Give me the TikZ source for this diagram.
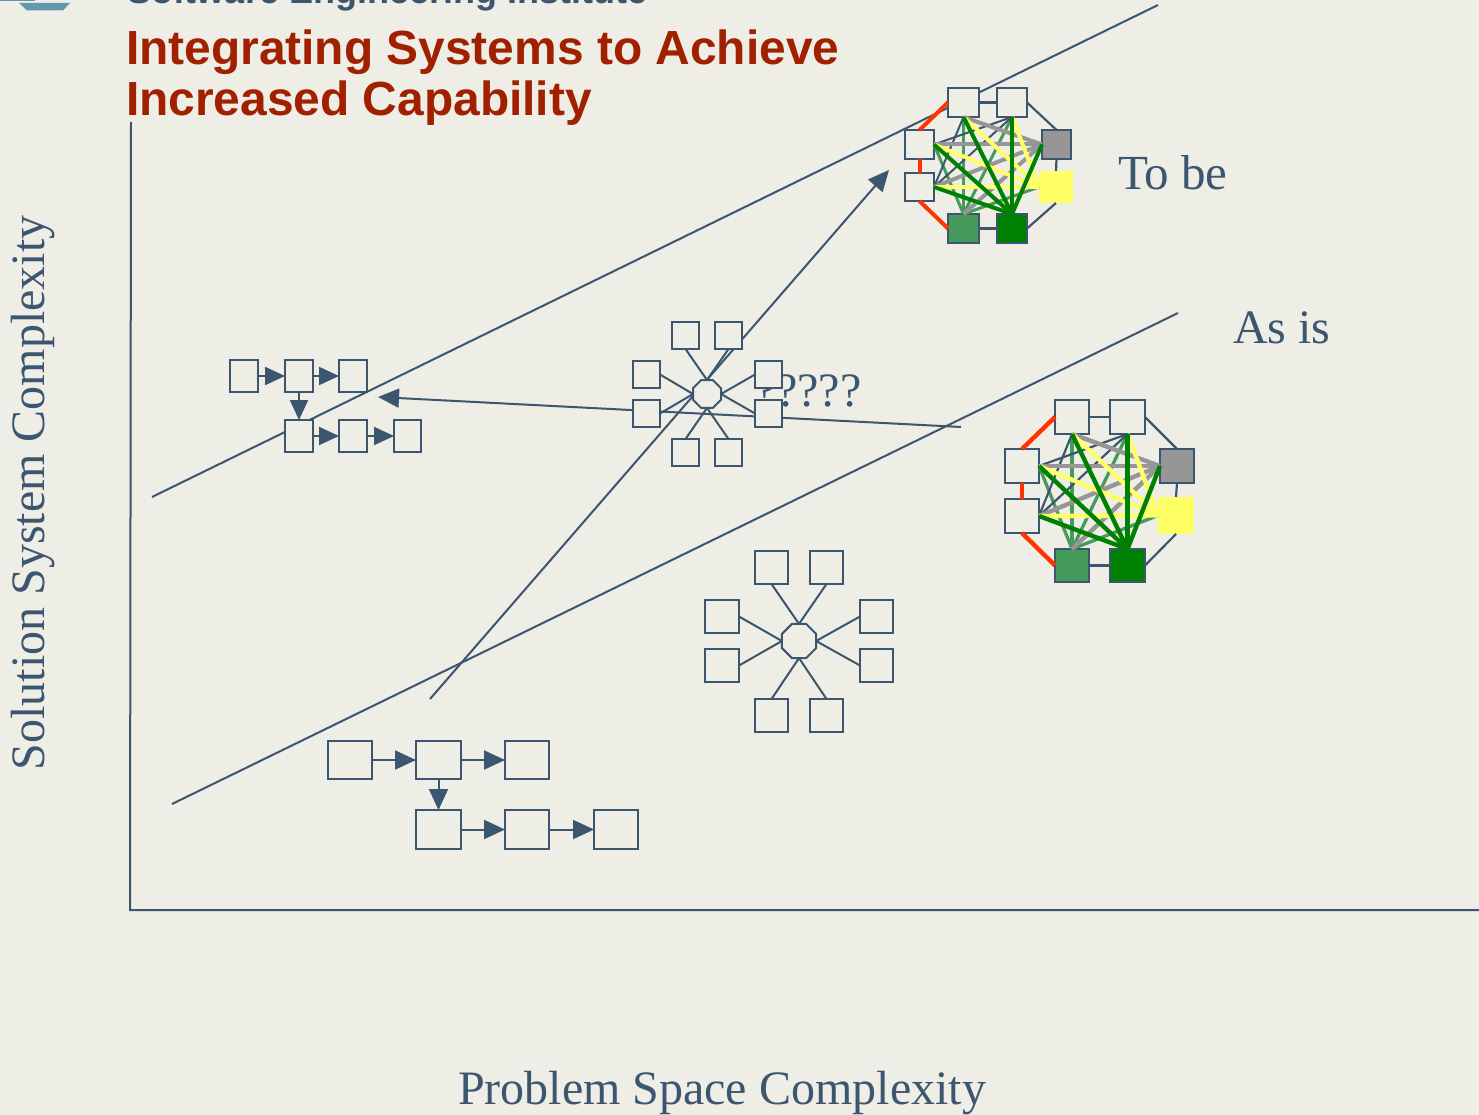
\documentclass[tikz,border=0pt]{standalone}
\usepackage{fontspec}
\setmainfont{Liberation Serif}
\newfontfamily\headfont{Liberation Sans}[BoldFont={Liberation Sans Bold}]
\usetikzlibrary{arrows.meta,shapes.geometric}
\definecolor{bgc}{HTML}{EEEDE6}
\definecolor{slate}{HTML}{3B566E}
\definecolor{titlered}{HTML}{A02000}
\definecolor{redline}{HTML}{FF3300}
\definecolor{gr}{HTML}{008000}
\definecolor{sea}{HTML}{469A5C}
\definecolor{gy}{HTML}{969696}
\definecolor{yl}{HTML}{FFFF66}
\definecolor{teal}{HTML}{6399AC}
\tikzset{
  x=1pt,y=-1pt,
  line/.style={draw=slate,line width=2pt},
  box/.style={draw=slate,line width=2pt,fill=bgc,inner sep=0pt,outer sep=0pt,anchor=north west},
  octa/.style={regular polygon,regular polygon sides=8,draw=slate,line width=2pt,fill=bgc,inner sep=0pt,outer sep=0pt},
  smalltip/.style={-{Triangle[length=20pt,width=18pt]}},
  bigtip/.style={-{Triangle[length=21pt,width=19pt]}},
  lab/.style={text=slate,inner sep=0pt,outer sep=0pt,anchor=base west},
}
\newcommand\pxbox[6][]{\node[box,#1,minimum width=#4pt-#2pt,minimum height=#5pt-#3pt] (#6) at (#2,#3) {};}
\newcommand\meshedges[3]{% prefix, thick, thin
  \foreach \p/\q/\c/\w in {
    T1.south/B1.north/sea/0.75, T2.south/B1.north/sea/0.75, L1.east/B1.north/sea/0.75,
    Y.west/B1.north/sea/0.75,
    T1.south/L2.east/slate/0.5, T2.south/L1.east/slate/0.5, T2.south/L2.east/slate/0.5,
    L1.east/R1.west/gy/1, T1.south/R1.west/gy/1, L2.east/R1.west/gy/1, R1.west/B1.north/gy/1,
    L1.east/Y.west/yl/1, T1.south/Y.west/yl/1, T2.south/Y.west/yl/1, L2.east/Y.west/yl/1,
    T1.south/B2.north/gr/1, T2.south/B2.north/gr/1, L1.east/B2.north/gr/1, L2.east/B2.north/gr/1, R1.west/B2.north/gr/1}{
    \draw[draw=\c,line width=\w*#2pt] (#1\p) -- (#1\q);
  }
  \foreach \p/\q in {T1.east/T2.west, B1.east/B2.west, R1.south/Y.north}
    \draw[draw=slate,line width=#3pt] (#1\p) -- (#1\q);
  \draw[draw=slate,line width=#3pt] (#1T2.east) -- (#1R1.north);
  \draw[draw=slate,line width=#3pt] (#1Y.south) -- (#1B2.east);
  \draw[draw=redline,line width=#2pt] (#1L1.north) -- (#1T1.west);
  \draw[draw=redline,line width=#2pt] (#1L1.south) -- (#1L2.north);
  \draw[draw=redline,line width=#2pt] (#1L2.south) -- (#1B1.west);
}
\begin{document}
\begin{tikzpicture}
\path[use as bounding box,fill=bgc] (0,0) rectangle (1479,1115);
% logo fragment
\fill[teal] (19,3) -- (70,3) -- (63,10.5) -- (27,10.5) -- cycle;
\fill[teal] (0,0) rectangle (35,1);
% titles
\node[lab,text=slate] (inst) at (127,4) {\headfont\bfseries\fontsize{36}{36}\selectfont Software Engineering Institute};
\node[lab,text=titlered] (title1) at (126,65) {\headfont\bfseries\fontsize{47.9}{48}\selectfont Integrating Systems to Achieve};
\node[lab,text=titlered] (title2) at (126,116) {\headfont\bfseries\fontsize{47.9}{48}\selectfont Increased Capability};
% labels
\node[lab] (tobe) at (1118,190) {\fontsize{49}{49}\selectfont To be};
\node[lab] (asis) at (1233,343) {\fontsize{48}{48}\selectfont As is};
\node[lab] (qq) at (755,406) {\fontsize{48}{48}\selectfont ?????};
\node[lab,anchor=base,rotate=90] (ylab) at (44,493) {\fontsize{48}{48}\selectfont Solution System Complexity};
\node[lab] (xlab) at (458,1104) {\fontsize{48}{48}\selectfont Problem Space Complexity};
% axes
\coordinate (ytop) at (131,122); \coordinate (orig) at (130,910); \coordinate (xend) at (1479,910);
\draw[line] (ytop) -- (orig) -- (xend);
% band lines
\coordinate (u1) at (152,497); \coordinate (u2) at (1158,5);
\coordinate (l1) at (172,804); \coordinate (l2) at (1178,313);
\draw[line] (u1) -- (u2);
\draw[line] (l1) -- (l2);
% long arrows
\coordinate (a1) at (430,699); \coordinate (a2) at (889,170);
\coordinate (b1) at (961,427); \coordinate (b2) at (378,397);
\draw[line,bigtip] (a1) -- (a2);
\draw[line,bigtip] (b1) -- (b2);
% small star
\pxbox{672}{322}{699}{349}{sa}
\pxbox{715}{322}{742}{349}{sb}
\pxbox{633}{361}{660}{388}{sc}
\pxbox{633}{400}{660}{427}{sd}
\pxbox{755}{361}{782}{388}{se}
\pxbox{755}{400}{782}{427}{sf}
\pxbox{672}{439}{699}{466}{sg}
\pxbox{715}{439}{742}{466}{sh}
\node[octa,minimum size=30.3pt] (so) at (707,394) {};
\foreach \n/\a/\o in {sa/south/north,sb/south/north,sc/east/west,sd/east/west,se/west/east,sf/west/east,sg/north/south,sh/north/south}
  \draw[line] (\n.\a) -- (so.\o);
% big star
\pxbox{755}{551}{788}{584}{ba}
\pxbox{810}{551}{843}{584}{bb}
\pxbox{705}{600}{739}{633}{bc}
\pxbox{705}{649}{739}{682}{bd}
\pxbox{860}{600}{893}{633}{be}
\pxbox{860}{649}{893}{682}{bf}
\pxbox{755}{699}{788}{732}{bg}
\pxbox{810}{699}{843}{732}{bh}
\node[octa,minimum size=37pt] (bo) at (799,641) {};
\foreach \n/\a/\o in {ba/south/north,bb/south/north,bc/east/west,bd/east/west,be/west/east,bf/west/east,bg/north/south,bh/north/south}
  \draw[line] (\n.\a) -- (bo.\o);
% upper chain
\pxbox{230}{360}{258}{392}{ca}
\pxbox{285}{360}{313}{392}{cb}
\pxbox{339}{360}{367}{392}{cc}
\pxbox{285}{420}{313}{452}{cd}
\pxbox{339}{420}{367}{452}{ce}
\pxbox{394}{420}{421}{452}{cf}
\foreach \p/\q in {ca.east/cb.west,cb.east/cc.west,cd.east/ce.west,ce.east/cf.west,cb.south/cd.north}
  \draw[line,smalltip] (\p) -- (\q);
% lower chain
\pxbox{328}{741}{372}{779}{da}
\pxbox{416}{741}{461}{779}{db}
\pxbox{505}{741}{549}{779}{dc}
\pxbox{416}{810}{461}{849}{dd}
\pxbox{505}{810}{549}{849}{de}
\pxbox{594}{810}{638}{849}{df}
\foreach \p/\q in {da.east/db.west,db.east/dc.west,dd.east/de.west,de.east/df.west,db.south/dd.north}
  \draw[line,bigtip] (\p) -- (\q);
% to-be mesh
\pxbox{948}{88}{979}{117}{tT1}
\pxbox{997}{88}{1027}{117}{tT2}
\pxbox{905}{130}{934}{159}{tL1}
\pxbox{905}{173}{934}{201}{tL2}
\pxbox[fill=gy]{1042}{130}{1071}{159}{tR1}
\node[box,draw=none,fill=yl,minimum width=34pt,minimum height=32pt] (tY) at (1039,171) {};
\pxbox[fill=sea]{948}{214}{979}{243}{tB1}
\pxbox[fill=gr]{997}{214}{1027}{243}{tB2}
\meshedges{t}{4}{2.2}
% as-is mesh
\pxbox{1055}{400}{1089}{434}{aT1}
\pxbox{1110}{400}{1145}{434}{aT2}
\pxbox{1005}{449}{1039}{483}{aL1}
\pxbox{1005}{499}{1039}{533}{aL2}
\pxbox[fill=gy]{1160}{449}{1194}{483}{aR1}
\node[box,draw=none,fill=yl,minimum width=36pt,minimum height=37pt] (aY) at (1158,497) {};
\pxbox[fill=sea]{1055}{549}{1089}{582}{aB1}
\pxbox[fill=gr]{1110}{549}{1145}{582}{aB2}
\meshedges{a}{4.4}{2.2}
\end{tikzpicture}
\end{document}
